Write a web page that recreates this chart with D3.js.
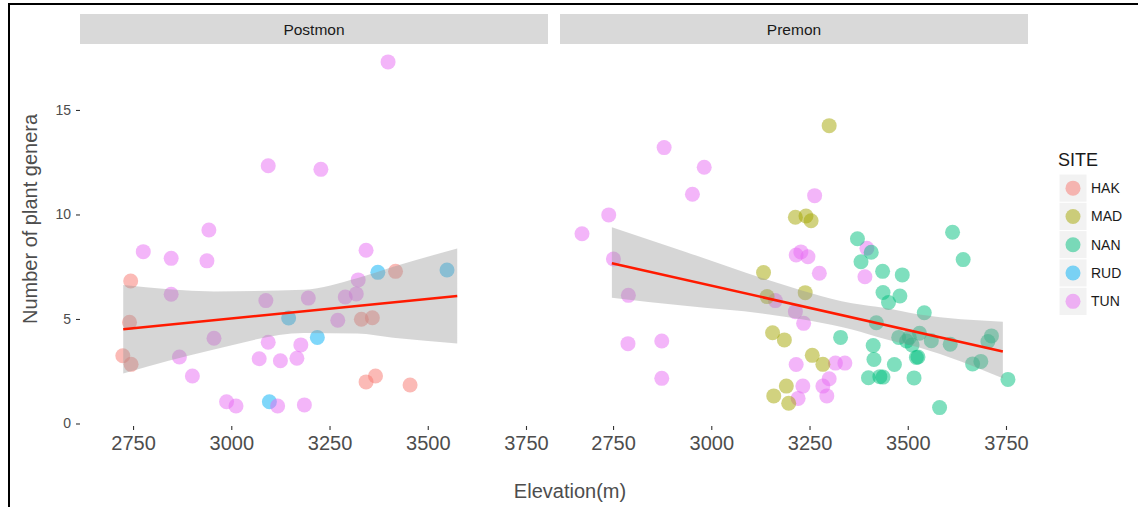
<!DOCTYPE html>
<html>
<head>
<meta charset="utf-8">
<script src="https://cdn.jsdelivr.net/npm/d3@7"></script>
<style>
  html, body { margin: 0; padding: 0; background: #fff; }
  svg { display: block; font-family: "Liberation Sans", Arial, sans-serif; }
</style>
</head>
<body>
<svg id="chart" width="1138" height="507"></svg>
<script>
// ---------------- DATA ----------------
const panels = ["Postmon", "Premon"];
const sites = ["HAK", "MAD", "NAN", "RUD", "TUN"];
const siteColors = ["#F8766D", "#A3A500", "#00BF7D", "#00B0F6", "#E76BF3"];
const xTicks = [2750, 3000, 3250, 3500, 3750];
const yTicks = [0, 5, 10, 15];

// Postmon points
const postElev = [2744, 2741, 2724, 2745, 3418, 3331, 3359, 3343, 3367, 3455,
  3146, 3097, 3373, 3549, 3219,
  3094, 2943, 2776, 2847, 2938, 2847, 3088, 2956, 3094, 2868, 3071, 3125, 2901, 2988,
  3012, 3118, 3228, 3343, 3323, 3196, 3290, 3318, 3271, 3177, 3167, 3186, 3399];
const postGenera = [6.82, 4.84, 3.24, 2.83, 7.28, 4.99, 5.06, 1.99, 2.27, 1.84,
  5.05, 1.04, 7.23, 7.34, 4.12,
  12.33, 9.26, 8.22, 7.90, 7.78, 6.18, 5.88, 4.08, 3.89, 3.18, 3.10, 3.00, 2.27, 1.04,
  0.84, 0.84, 12.16, 8.29, 6.87, 6.00, 6.05, 6.20, 4.94, 3.76, 3.12, 0.89, 17.30];
const postSite = ["HAK","HAK","HAK","HAK","HAK","HAK","HAK","HAK","HAK","HAK",
  "RUD","RUD","RUD","RUD","RUD",
  "TUN","TUN","TUN","TUN","TUN","TUN","TUN","TUN","TUN","TUN","TUN","TUN","TUN","TUN",
  "TUN","TUN","TUN","TUN","TUN","TUN","TUN","TUN","TUN","TUN","TUN","TUN","TUN"];

// Premon points
const preElev = [2880, 2982, 2952, 2739, 2671, 2751, 2789, 3163, 3216, 3228, 3246, 3214, 2788, 2874,
  2874, 3216, 3263, 3275, 3235, 3316, 3340, 3300, 3284, 3233, 3294, 3221, 3396, 3391,
  3133, 3142, 3156, 3186, 3191, 3159, 3197, 3300, 3214, 3241, 3254, 3239, 3257, 3284,
  3372, 3407, 3381, 3436, 3486, 3437, 3451, 3480, 3614, 3641, 3542, 3420, 3329, 3412,
  3414, 3466, 3400, 3429, 3437, 3516, 3522, 3526, 3581, 3755, 3713, 3704, 3665, 3686,
  3608, 3560, 3477, 3504, 3530, 3511, 3497];
const preGenera = [13.20, 12.26, 10.97, 9.98, 9.08, 7.87, 6.13, 5.88, 8.06, 8.21, 7.98, 5.35, 3.82, 3.95,
  2.16, 2.82, 10.90, 7.19, 4.79, 2.89, 2.89, 2.14, 1.79, 1.79, 1.32, 1.20, 8.38, 7.02,
  7.22, 6.07, 4.34, 4.00, 1.79, 1.32, 0.97, 14.25, 9.87, 9.93, 9.70, 6.26, 3.26, 2.83,
  8.84, 8.19, 7.74, 7.28, 7.11, 6.27, 5.79, 6.10, 9.15, 7.84, 5.30, 4.82, 4.12, 3.73,
  3.06, 2.82, 2.19, 2.24, 2.22, 2.18, 3.16, 3.18, 0.76, 2.11, 4.19, 3.92, 2.85, 2.97,
  3.79, 3.96, 4.12, 4.12, 4.32, 3.76, 3.95];
const preSite = ["TUN","TUN","TUN","TUN","TUN","TUN","TUN","TUN","TUN","TUN","TUN","TUN","TUN","TUN",
  "TUN","TUN","TUN","TUN","TUN","TUN","TUN","TUN","TUN","TUN","TUN","TUN","TUN","TUN",
  "MAD","MAD","MAD","MAD","MAD","MAD","MAD","MAD","MAD","MAD","MAD","MAD","MAD","MAD",
  "NAN","NAN","NAN","NAN","NAN","NAN","NAN","NAN","NAN","NAN","NAN","NAN","NAN","NAN",
  "NAN","NAN","NAN","NAN","NAN","NAN","NAN","NAN","NAN","NAN","NAN","NAN","NAN","NAN",
  "NAN","NAN","NAN","NAN","NAN","NAN","NAN"];

// Linear fit + confidence band
const postBandX  = [2725, 2956, 3185, 3320, 3412, 3575];
const postBandLo = [2.39, 3.54, 4.33, 4.30, 4.10, 3.83];
const postBandHi = [6.62, 6.32, 6.40, 6.95, 7.50, 8.37];
const postFitX = [2725, 3575];
const postFitY = [4.51, 6.10];

const preBandX  = [2747, 2933, 3147, 3358, 3442, 3529, 3742];
const preBandLo = [6.02, 5.63, 5.22, 4.50, 4.04, 3.63, 2.16];
const preBandHi = [9.39, 8.22, 6.85, 5.75, 5.52, 5.21, 4.87];
const preFitX = [2747, 3742];
const preFitY = [7.67, 3.44];

// ---------------- DRAW ----------------
const svg = d3.select("#chart");
const color = d3.scaleOrdinal().domain(sites).range(siteColors);

const panelTop = 46, panelBottom = 426;
const panelX = [[80, 548], [560, 1028]];
const stripTop = 14, stripBottom = 44;

const y = d3.scaleLinear().domain([-0.12, 18.06]).range([panelBottom, panelTop]);

// outer frame (screenshot border on left & top)
svg.append("line").attr("x1", 9).attr("x2", 9).attr("y1", 3).attr("y2", 507)
  .attr("stroke", "#000").attr("stroke-width", 2);
svg.append("line").attr("x1", 8).attr("x2", 1138).attr("y1", 4).attr("y2", 4)
  .attr("stroke", "#000").attr("stroke-width", 2);

const panelData = [
  { elev: postElev, gen: postGenera, site: postSite, bx: postBandX, lo: postBandLo, hi: postBandHi, fx: postFitX, fy: postFitY },
  { elev: preElev, gen: preGenera, site: preSite, bx: preBandX, lo: preBandLo, hi: preBandHi, fx: preFitX, fy: preFitY }
];

panels.forEach((name, i) => {
  const [x0, x1] = panelX[i];
  const x = d3.scaleLinear().domain([2615, 3806]).range([x0, x1]);
  const g = svg.append("g");
  const pd = panelData[i];

  // strip
  g.append("rect").attr("x", x0).attr("y", stripTop).attr("width", x1 - x0)
    .attr("height", stripBottom - stripTop).attr("fill", "#d9d9d9");
  g.append("text").attr("x", (x0 + x1) / 2).attr("y", stripTop + 21)
    .attr("text-anchor", "middle").attr("font-size", 15.5).attr("fill", "#1a1a1a").text(name);

  // x axis
  const xAxis = d3.axisBottom(x).tickValues(xTicks).tickSize(4).tickPadding(6).tickFormat(d3.format("d"));
  const ax = g.append("g").attr("transform", `translate(0,${panelBottom})`).call(xAxis);
  ax.select(".domain").remove();
  ax.selectAll("line").attr("stroke", "#333").attr("stroke-width", 1.1);
  ax.selectAll("text").attr("font-size", 20).attr("fill", "#4d4d4d")
    .attr("font-family", "Liberation Sans, Arial, sans-serif");

  // points
  const pts = pd.elev.map((e, k) => ({ e, v: pd.gen[k], s: pd.site[k] }));
  g.selectAll("circle.pt").data(pts).join("circle").attr("class", "pt")
    .attr("cx", d => x(d.e)).attr("cy", d => y(d.v)).attr("r", 7.5)
    .attr("fill", d => color(d.s)).attr("fill-opacity", 0.5);

  // confidence band
  const band = pd.bx.map((b, k) => ({ b, lo: pd.lo[k], hi: pd.hi[k] }));
  const area = d3.area().x(d => x(d.b)).y0(d => y(d.lo)).y1(d => y(d.hi)).curve(d3.curveMonotoneX);
  g.append("path").datum(band).attr("d", area).attr("fill", "#999999").attr("fill-opacity", 0.4);

  // fit line
  const fit = pd.fx.map((f, k) => ({ f, v: pd.fy[k] }));
  g.append("path").datum(fit)
    .attr("d", d3.line().x(d => x(d.f)).y(d => y(d.v)))
    .attr("fill", "none").attr("stroke", "#ff1a00").attr("stroke-width", 2.5);
});

// y axis (left panel only)
const yAxis = d3.axisLeft(y).tickValues(yTicks).tickSize(4).tickPadding(5);
const ay = svg.append("g").attr("transform", `translate(${panelX[0][0]},0)`).call(yAxis);
ay.select(".domain").remove();
ay.selectAll("line").attr("stroke", "#333").attr("stroke-width", 1.1);
ay.selectAll("text").attr("font-size", 14).attr("fill", "#4d4d4d")
  .attr("font-family", "Liberation Sans, Arial, sans-serif");

// axis titles
svg.append("text").attr("x", 570).attr("y", 498).attr("text-anchor", "middle")
  .attr("font-size", 20).attr("fill", "#4d4d4d").text("Elevation(m)");
svg.append("text").attr("transform", "translate(37,219) rotate(-90)")
  .attr("text-anchor", "middle").attr("font-size", 20).attr("fill", "#4d4d4d")
  .text("Number of plant genera");

// legend
const lg = svg.append("g");
lg.append("text").attr("x", 1058).attr("y", 166).attr("font-size", 18).attr("fill", "#1a1a1a").text("SITE");
const keyTop = 174, keyH = 28.3;
sites.forEach((s, k) => {
  const ky = keyTop + k * keyH;
  lg.append("rect").attr("x", 1059).attr("y", ky).attr("width", 28).attr("height", keyH)
    .attr("fill", "#f2f2f2").attr("stroke", "#fff").attr("stroke-width", 1);
  lg.append("circle").attr("cx", 1073).attr("cy", ky + keyH / 2).attr("r", 7.5)
    .attr("fill", color(s)).attr("fill-opacity", 0.5);
  lg.append("text").attr("x", 1091).attr("y", ky + keyH / 2 + 5).attr("font-size", 14)
    .attr("fill", "#1a1a1a").text(s);
});
</script>
</body>
</html>
